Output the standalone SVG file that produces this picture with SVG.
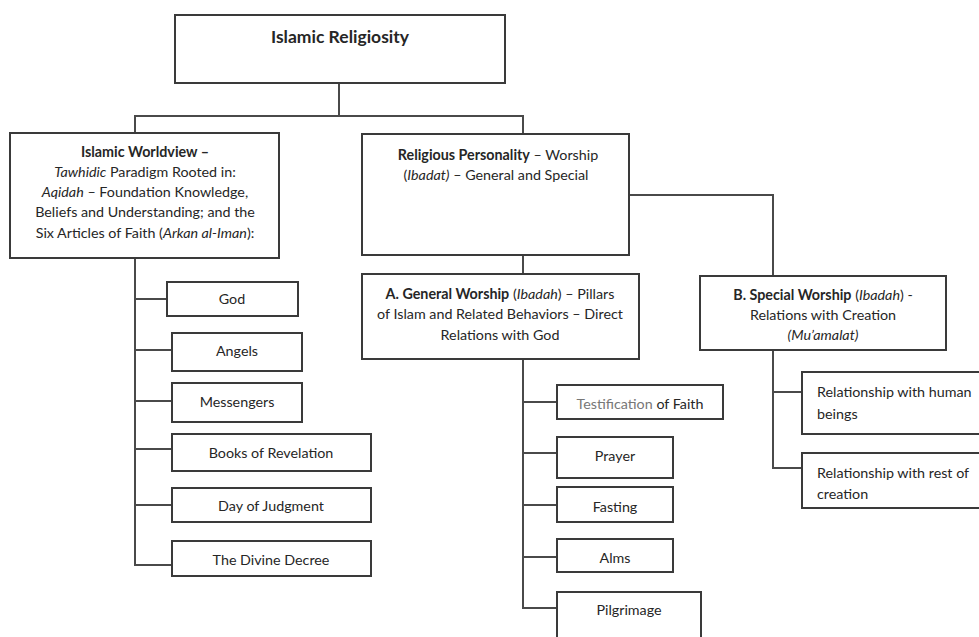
<svg xmlns="http://www.w3.org/2000/svg" width="979" height="637" viewBox="0 0 979 637">
<style>
  .box { fill: #ffffff; stroke: #3a3a3a; stroke-width: 2; }
  .line { fill: none; stroke: #4a4a4a; stroke-width: 2; }
  text { font-family: Lato, "Liberation Sans", sans-serif; font-size: 14.3px; fill: #262626; }
  .c { text-anchor: middle; }
  .b { font-weight: bold; }
  .i { font-style: italic; }
  .title { font-size: 17.5px; font-weight: bold; }
  .gray { fill: #777777; }
</style>
<rect width="979" height="637" fill="#ffffff"/>

<g id="connectors">
  <polyline class="line" points="339,83 339,116"/>
  <polyline class="line" points="135,133 135,116 523,116 523,134"/>
  <polyline class="line" points="135,258 135,565 172,565"/>
  <line class="line" x1="135" y1="299" x2="167" y2="299"/>
  <line class="line" x1="135" y1="350" x2="172" y2="350"/>
  <line class="line" x1="135" y1="401" x2="172" y2="401"/>
  <line class="line" x1="135" y1="449" x2="172" y2="449"/>
  <line class="line" x1="135" y1="505" x2="172" y2="505"/>
  <line class="line" x1="523" y1="255" x2="523" y2="274"/>
  <polyline class="line" points="629,195 773,195 773,276"/>
  <polyline class="line" points="523,359 523,608 557,608"/>
  <line class="line" x1="523" y1="402" x2="557" y2="402"/>
  <line class="line" x1="523" y1="453" x2="557" y2="453"/>
  <line class="line" x1="523" y1="505" x2="557" y2="505"/>
  <line class="line" x1="523" y1="557" x2="557" y2="557"/>
  <polyline class="line" points="773,350 773,468 802,468"/>
  <line class="line" x1="773" y1="392" x2="802" y2="392"/>
</g>

<g id="islamic-religiosity">
  <rect class="box" x="175" y="15" width="330" height="68"/>
  <text class="c title" x="340" y="43">Islamic Religiosity</text>
</g>

<g id="islamic-worldview">
  <rect class="box" x="10" y="133" width="269" height="125"/>
  <text class="c" x="145" y="157"><tspan class="b">Islamic Worldview –</tspan></text>
  <text class="c" x="145" y="177"><tspan class="i">Tawhidic</tspan> Paradigm Rooted in:</text>
  <text class="c" x="145" y="197"><tspan class="i">Aqidah</tspan> – Foundation Knowledge,</text>
  <text class="c" x="145" y="217">Beliefs and Understanding; and the</text>
  <text class="c" x="145" y="238">Six Articles of Faith (<tspan class="i">Arkan al-Iman</tspan>):</text>
</g>

<g id="religious-personality">
  <rect class="box" x="362" y="134" width="267" height="121"/>
  <text class="c" x="498" y="160"><tspan class="b">Religious Personality</tspan> – Worship</text>
  <text class="c" x="496" y="180">(<tspan class="i">Ibadat)</tspan> – General and Special</text>
</g>

<g id="general-worship">
  <rect class="box" x="362" y="274" width="277" height="85"/>
  <text class="c" x="500" y="299"><tspan class="b">A.  General Worship</tspan> (<tspan class="i">Ibadah</tspan>) – Pillars</text>
  <text class="c" x="500" y="319">of Islam and Related Behaviors – Direct</text>
  <text class="c" x="500" y="340">Relations with God</text>
</g>

<g id="special-worship">
  <rect class="box" x="700" y="276" width="246" height="74"/>
  <text class="c" x="823" y="300"><tspan class="b">B.  Special Worship</tspan> (<tspan class="i">Ibadah</tspan>) -</text>
  <text class="c" x="823" y="320">Relations with Creation</text>
  <text class="c i" x="823" y="340">(Mu’amalat)</text>
</g>

<g id="god">
  <rect class="box" x="167" y="282" width="131" height="34"/>
  <text class="c" x="232" y="304">God</text>
</g>
<g id="angels">
  <rect class="box" x="172" y="333" width="130" height="38"/>
  <text class="c" x="237" y="356">Angels</text>
</g>
<g id="messengers">
  <rect class="box" x="172" y="383" width="130" height="39"/>
  <text class="c" x="237" y="407">Messengers</text>
</g>
<g id="books">
  <rect class="box" x="172" y="434" width="199" height="37"/>
  <text class="c" x="271" y="458">Books of Revelation</text>
</g>
<g id="judgment">
  <rect class="box" x="172" y="488" width="199" height="34"/>
  <text class="c" x="271" y="511">Day of Judgment</text>
</g>
<g id="decree">
  <rect class="box" x="172" y="541" width="199" height="35"/>
  <text class="c" x="271" y="565">The Divine Decree</text>
</g>

<g id="testification">
  <rect class="box" x="557" y="385" width="166" height="34"/>
  <text class="c" x="640" y="409"><tspan class="gray">Testification</tspan> of Faith</text>
</g>
<g id="prayer">
  <rect class="box" x="557" y="437" width="116" height="41"/>
  <text class="c" x="615" y="461">Prayer</text>
</g>
<g id="fasting">
  <rect class="box" x="557" y="487" width="116" height="35"/>
  <text class="c" x="615" y="512">Fasting</text>
</g>
<g id="alms">
  <rect class="box" x="557" y="539" width="116" height="33"/>
  <text class="c" x="615" y="563">Alms</text>
</g>
<g id="pilgrimage">
  <rect class="box" x="557" y="592" width="144" height="70"/>
  <text class="c" x="629" y="615">Pilgrimage</text>
</g>

<g id="human-beings">
  <rect class="box" x="802" y="372" width="200" height="62"/>
  <text x="817" y="397">Relationship with human</text>
  <text x="817" y="419">beings</text>
</g>
<g id="rest-of-creation">
  <rect class="box" x="802" y="453" width="200" height="55"/>
  <text x="817" y="478">Relationship with rest of</text>
  <text x="817" y="499">creation</text>
</g>
</svg>
